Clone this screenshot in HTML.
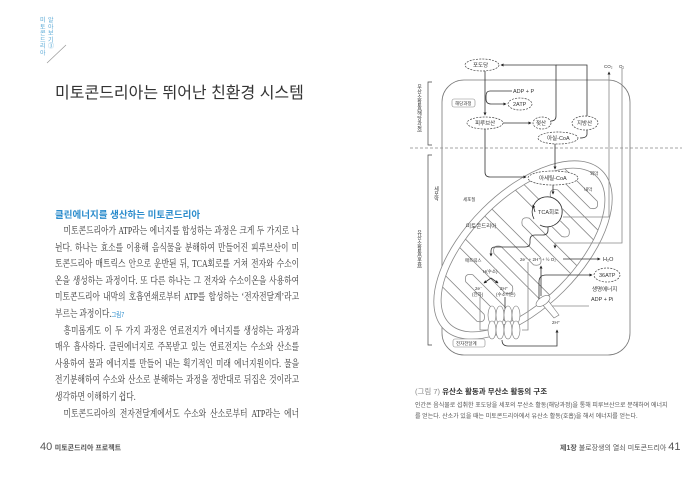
<!DOCTYPE html>
<html><head><meta charset="utf-8"><style>
html,body{margin:0;padding:0;background:#fff;}
body{width:700px;height:481px;position:relative;overflow:hidden;font-family:"Liberation Serif","Noto Serif CJK KR","Noto Serif CJK SC",serif;color:#333;}
.a{position:absolute;white-space:nowrap;}
.sans{font-family:"Liberation Sans","Noto Sans CJK KR",sans-serif;}
.bl{position:absolute;left:0;width:315px;font-size:10px;white-space:nowrap;text-align:justify;text-align-last:justify;}
</style></head><body>
<div class="a sans" style="left:40px;top:18px;width:6px;font-size:6px;line-height:6.5px;color:#5aa9d6;">미<br>토<br>콘<br>드<br>리<br>아</div>
<div class="a sans" style="left:48px;top:18px;width:6px;font-size:6px;line-height:6.5px;color:#5aa9d6;">알<br>아<br>보<br>기<br>③</div>
<svg class="a" style="left:0;top:0" width="700" height="481">
<line x1="47" y1="63" x2="66" y2="45" stroke="#999" stroke-width="0.7"/>
</svg>
<div class="a sans" style="left:55px;top:79px;font-size:16px;color:#333;">미토콘드리아는 뛰어난 친환경 시스템</div>
<div class="a sans" style="left:55px;top:207px;font-size:9.5px;color:#2b8ccc;font-weight:bold;">클린에너지를 생산하는 미토콘드리아</div>
<div class="a" style="left:55px;top:222px;width:315px;height:220px;transform:scaleX(0.775);transform-origin:0 0;">
<div class="bl" style="top:0;left:11px;width:304px">미토콘드리아가 ATP라는 에너지를 합성하는 과정은 크게 두 가지로 나</div>
<div class="bl" style="top:16.6px">뉜다. 하나는 효소를 이용해 음식물을 분해하여 만들어진 피루브산이 미</div>
<div class="bl" style="top:33.2px">토콘드리아 매트릭스 안으로 운반된 뒤, TCA회로를 거쳐 전자와 수소이</div>
<div class="bl" style="top:49.8px">온을 생성하는 과정이다. 또 다른 하나는 그 전자와 수소이온을 사용하여</div>
<div class="bl" style="top:66.4px">미토콘드리아 내막의 호흡연쇄로부터 ATP를 합성하는 ‘전자전달계’라고</div>
<div class="bl" style="top:83px;text-align-last:left">부르는 과정이다.<span class="sans" style="font-size:7px;color:#2b8ccc">그림7</span></div>
<div class="bl" style="top:99.6px;left:11px;width:304px">흥미롭게도 이 두 가지 과정은 연료전지가 에너지를 생성하는 과정과</div>
<div class="bl" style="top:116.2px">매우 흡사하다. 클린에너지로 주목받고 있는 연료전지는 수소와 산소를</div>
<div class="bl" style="top:132.8px">사용하여 물과 에너지를 만들어 내는 획기적인 미래 에너지원이다. 물을</div>
<div class="bl" style="top:149.4px">전기분해하여 수소와 산소로 분해하는 과정을 정반대로 뒤집은 것이라고</div>
<div class="bl" style="top:166px;text-align-last:left">생각하면 이해하기 쉽다.</div>
<div class="bl" style="top:182.6px;left:11px;width:304px">미토콘드리아의 전자전달계에서도 수소와 산소로부터 ATP라는 에너</div>
</div>
<div class="a sans" style="left:40px;top:441px;font-size:9px;color:#555;"><span style="font-size:11px">40</span> <b style="font-size:7px">미토콘드리아 프로젝트</b></div>
<div class="a sans" style="left:560px;top:441px;font-size:7px;color:#555;"><b>제1장</b> 불로장생의 열쇠 미토콘드리아 <span style="font-size:11px">41</span></div>
<div class="a sans" style="left:415px;top:386px;font-size:7.5px;color:#333;"><span style="color:#888">(그림 7)</span> <b>유산소 활동과 무산소 활동의 구조</b></div>
<div class="a sans" style="left:415px;top:401px;font-size:6px;line-height:11px;color:#555;">인간은 음식물로 섭취한 포도당을 세포의 무산소 활동(해당과정)을 통해 피루브산으로 분해하여 에너지<br>를 얻는다. 산소가 있을 때는 미토콘드리아에서 유산소 활동(호흡)을 해서 에너지를 얻는다.</div>

<svg class="a" style="left:0;top:0;font-family:'Liberation Sans','Noto Sans CJK KR',sans-serif" width="700" height="481" font-size="5.5" fill="#333">
<defs><marker id="ar" viewBox="0 0 6 6" refX="5" refY="3" markerWidth="4" markerHeight="4" orient="auto"><path d="M0,0L6,3L0,6z" fill="#222"/></marker>
<clipPath id="ic"><ellipse cx="523" cy="250" rx="104" ry="51"/></clipPath></defs>
<rect x="442" y="80" width="188" height="275" rx="22" fill="none" stroke="#777" stroke-width="0.8"/>
<line x1="410" y1="148" x2="682" y2="148" stroke="#888" stroke-width="0.7" stroke-dasharray="3,2"/>
<path d="M432,82H428V145H432M432,155H428V345H432" fill="none" stroke="#444" stroke-width="0.7"/>
<text x="419" y="84" font-size="5" writing-mode="tb">무산소활동(해당과정)</text>
<text x="419" y="230" font-size="5" writing-mode="tb">유산소활동(호흡)</text>
<text x="436" y="186" font-size="5" writing-mode="tb">세포막</text>
<g transform="rotate(-45 523 250)" fill="none" stroke="#888" stroke-width="0.8">
<ellipse cx="523" cy="250" rx="112" ry="58" fill="#fff"/>
<ellipse cx="523" cy="250" rx="104" ry="51"/>
<g clip-path="url(#ic)">
<path d="M440,195V268Q445,276 450,268V195M480,195V268Q485,276 490,268V195M520,195V268Q525,276 530,268V195M560,195V268Q565,276 570,268V195M600,195V268Q605,276 610,268V195"/>
<path d="M460,305V232Q465,224 470,232V305M500,305V232Q505,224 510,232V305M540,305V232Q545,224 550,232V305M580,305V232Q585,224 590,232V305"/>
</g>
</g>
<path d="M622,68V243H555V248" fill="none" stroke="#888" stroke-width="0.8" marker-end="url(#ar)"/>
<path d="M563,217H609V72" fill="none" stroke="#888" stroke-width="0.8" marker-end="url(#ar)"/>
<text x="604" y="68" font-size="4.5">CO₂</text><text x="619" y="68" font-size="4.5">O₂</text>
<g fill="#fff" stroke="#444" stroke-width="0.7" stroke-dasharray="2,1.2">
<ellipse cx="482" cy="65" rx="17" ry="6"/>
<ellipse cx="520" cy="104" rx="12" ry="6"/>
<ellipse cx="485" cy="123" rx="18" ry="6"/>
<ellipse cx="542" cy="123" rx="9" ry="6"/>
<ellipse cx="585" cy="123" rx="13" ry="7"/>
<ellipse cx="558" cy="138" rx="20" ry="6"/>
<ellipse cx="553" cy="178" rx="25" ry="7"/>
<ellipse cx="607" cy="275" rx="13" ry="7"/>
</g>
<circle cx="548" cy="212" r="15" fill="#fff" stroke="none"/>
<rect x="452" y="99" width="23" height="8" rx="2" fill="#fff" stroke="#888" stroke-width="0.6"/>
<rect x="453" y="339" width="32" height="8" rx="2" fill="#fff" stroke="#888" stroke-width="0.6"/>
<g fill="none" stroke="#333" stroke-width="0.8">
<path d="M485,71V115" marker-end="url(#ar)"/>
<path d="M512,91H490Q486,91 486,96V99Q486,104 491,104H506" marker-end="url(#ar)"/>
<path d="M503,123H531" marker-end="url(#ar)"/>
<path d="M551,121Q556,121 556,116V65H501" marker-end="url(#ar)"/>
<path d="M587,116V65H556"/>
<path d="M587,130V134Q587,138 580,138"/>
<path d="M555,144V169" marker-end="url(#ar)"/>
<path d="M485,129V172Q485,177 490,177H526" marker-end="url(#ar)"/>
<path d="M553,185V194" marker-end="url(#ar)"/>
<path d="M534,219A15,15 0 1,1 540,225"/>
<path d="M535,212L533,205" marker-end="url(#ar)"/>
<path d="M548,227V230Q548,235 543,235H535Q530,235 530,240V243Q530,247 525,247H495Q491,247 491,251V256" marker-end="url(#ar)"/>
<path d="M563,259H600" marker-end="url(#ar)"/>
<path d="M491,278L484,283" marker-end="url(#ar)"/><path d="M491,278L498,283" marker-end="url(#ar)"/>
<path d="M505,297V313" marker-end="url(#ar)"/>
<path d="M480,297V330H488" stroke="#888"/>
<path d="M522,330H528V262" stroke="#888"/>
<path d="M539,300V282Q539,275 546,275H592" marker-end="url(#ar)"/>
<path d="M547,306H589" stroke="#888"/>
<path d="M541,296V266" marker-end="url(#ar)"/>
<path d="M502,340Q502,346 508,346H557V330" marker-end="url(#ar)"/>
</g>
<g fill="#fff" stroke="#777" stroke-width="0.6">
<ellipse cx="492" cy="315" rx="4" ry="9"/><ellipse cx="500" cy="315" rx="4" ry="9"/><ellipse cx="508" cy="315" rx="4" ry="9"/><ellipse cx="516" cy="315" rx="4" ry="9"/>
<ellipse cx="492" cy="330" rx="4" ry="9"/><ellipse cx="500" cy="330" rx="4" ry="9"/><ellipse cx="508" cy="330" rx="4" ry="9"/><ellipse cx="516" cy="330" rx="4" ry="9"/>
<path d="M541,303 l6,-4 l12,16 l-5,3z"/>
<ellipse cx="543" cy="301" rx="8" ry="4" transform="rotate(-35 543 301)"/>
</g>
<text x="473" y="67">포도당</text>
<text x="513" y="93">ADP + P</text>
<text x="513" y="106">2ATP</text>
<text x="455" y="105" font-size="4.5">해당과정</text>
<text x="475" y="125">피루브산</text>
<text x="536" y="125">젖산</text>
<text x="577" y="125">지방산</text>
<text x="547" y="140">아실-CoA</text>
<text x="539" y="180">아세틸-CoA</text>
<text x="538" y="214">TCA회로</text>
<text x="590" y="175" font-size="4.5">외막</text>
<text x="584" y="191" font-size="4.5">내막</text>
<text x="463" y="201" font-size="4.5">세포질</text>
<text x="466" y="228">미토콘드리아</text>
<text x="465" y="262" font-size="4.5">매트릭스</text>
<text x="483" y="273" font-size="4.5">H(수소)</text>
<text x="475" y="290" font-size="4.5">2e⁻</text><text x="472" y="296" font-size="4.5">(전자)</text>
<text x="500" y="290" font-size="4.5">2H⁺</text><text x="496" y="296" font-size="4.5">(수소이온)</text>
<text x="520" y="261" font-size="4.5">2e⁻ + 2H⁺ + ½ O₂</text>
<text x="603" y="261">H₂O</text>
<text x="599" y="277">36ATP</text>
<text x="592" y="291">생명에너지</text>
<text x="591" y="301">ADP + Pi</text>
<text x="552" y="324" font-size="4.5">2H⁺</text>
<text x="456" y="345" font-size="4.5">전자전달계</text>
</svg>
</body></html>
